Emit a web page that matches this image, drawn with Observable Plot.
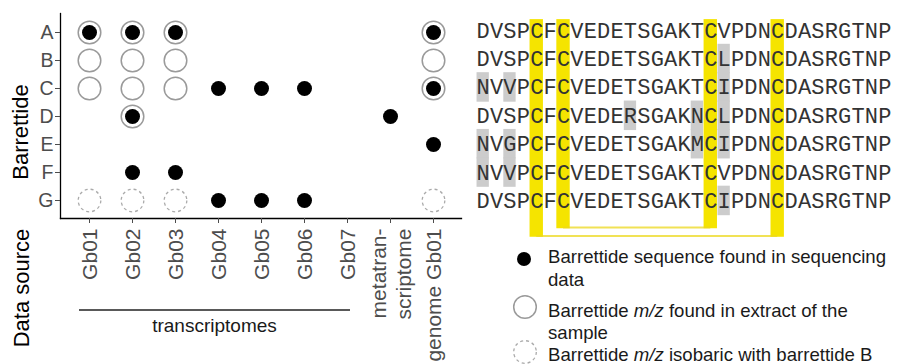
<!DOCTYPE html>
<html>
<head>
<meta charset="utf-8">
<script src="https://cdn.jsdelivr.net/npm/d3@7"></script>
<script src="https://cdn.jsdelivr.net/npm/@observablehq/plot@0.6"></script>
<style>
  html, body { margin: 0; padding: 0; background: #fff; }
  #chart { position: relative; width: 899px; height: 364px; overflow: hidden; background: #fff; font-family: "Liberation Sans", Arial, sans-serif; }
  #chart > * { position: absolute; top: 0; }
  .leftplot text { font-size: 19.5px !important; }
  .leftplot text[transform*="rotate"] { font-size: 21px !important; }
</style>
</head>
<body>
<div id="chart"></div>
<script>
// ---------- data ----------
const sources = ["Gb01", "Gb02", "Gb03", "Gb04", "Gb05", "Gb06", "Gb07", "metatranscriptome", "genome Gb01"];
const sourceLabels = ["Gb01", "Gb02", "Gb03", "Gb04", "Gb05", "Gb06", "Gb07", "metatran-\nscriptome", "genome Gb01"];
const transcriptomeGroup = ["Gb01", "Gb07"];
const barrettides = ["A", "B", "C", "D", "E", "F", "G"];

// [data source, barrettide]
const foundInSequencing = [
  ["Gb01", "A"], ["Gb02", "A"], ["Gb03", "A"], ["genome Gb01", "A"],
  ["Gb04", "C"], ["Gb05", "C"], ["Gb06", "C"], ["genome Gb01", "C"],
  ["Gb02", "D"], ["metatranscriptome", "D"],
  ["genome Gb01", "E"],
  ["Gb02", "F"], ["Gb03", "F"],
  ["Gb04", "G"], ["Gb05", "G"], ["Gb06", "G"]
];
const foundInExtract = [
  ["Gb01", "A"], ["Gb02", "A"], ["Gb03", "A"], ["genome Gb01", "A"],
  ["Gb01", "B"], ["Gb02", "B"], ["Gb03", "B"], ["genome Gb01", "B"],
  ["Gb01", "C"], ["Gb02", "C"], ["Gb03", "C"], ["genome Gb01", "C"],
  ["Gb02", "D"]
];
const isobaricWithB = [
  ["Gb01", "G"], ["Gb02", "G"], ["Gb03", "G"], ["genome Gb01", "G"]
];

// aligned sequences, rows A..G
const sequences = [
  "DVSPCFCVEDETSGAKTCVPDNCDASRGTNP",
  "DVSPCFCVEDETSGAKTCLPDNCDASRGTNP",
  "NVVPCFCVEDETSGAKTCIPDNCDASRGTNP",
  "DVSPCFCVEDERSGAKNCLPDNCDASRGTNP",
  "NVGPCFCVEDETSGAKMCIPDNCDASRGTNP",
  "NVVPCFCVEDETSGAKTCVPDNCDASRGTNP",
  "DVSPCFCVEDETSGAKTCIPDNCDASRGTNP"
];
const cysteines = [4, 6, 17, 22];
// disulfide bonds [from, to, nesting level]
const bonds = [[6, 17, 1], [4, 22, 2]];

const legendItems = [
  ["Barrettide sequence found in sequencing", "data"],
  ["Barrettide |m/z| found in extract of the", "sample"],
  ["Barrettide |m/z| isobaric with barrettide B"]
];

// ---------- colors ----------
const ringGrey = "#9a9a9a";
const yellow = "#f5e400";
const diffGrey = "#cccccc";

const chart = document.getElementById("chart");

// ---------- left: dot grid ----------
const labelOf = new Map(sources.map((s, i) => [s, sourceLabels[i]]));
const left = Plot.plot({
  width: 470, height: 364,
  marginLeft: 60, marginRight: 9, marginTop: 13, marginBottom: 146,
  style: { fontFamily: "'Liberation Sans', Arial, sans-serif", background: "transparent", overflow: "visible" },
  x: { type: "point", domain: sources, padding: 0.6 },
  y: { type: "point", domain: barrettides, padding: 0.6 },
  marks: [
    Plot.frame({ anchor: "left", stroke: "#000", strokeWidth: 1.3 }),
    Plot.frame({ anchor: "bottom", stroke: "#000", strokeWidth: 1.3 }),
    Plot.axisY({ tickSize: 5, tickPadding: 2, fontSize: 19.5, color: "#4d4d4d", label: null }),
    Plot.axisX({ tickSize: 5, tickPadding: 5, tickRotate: -90, fontSize: 21, lineHeight: 1.18,
                 color: "#4d4d4d", label: null, tickFormat: d => labelOf.get(d) }),
    Plot.dot(foundInExtract, { x: d => d[0], y: d => d[1], r: 11.3, stroke: ringGrey, strokeWidth: 1.5, fill: "none" }),
    Plot.dot(isobaricWithB, { x: d => d[0], y: d => d[1], r: 11.3, stroke: "#aaaaaa", strokeWidth: 1.3,
                              strokeDasharray: "3,3", fill: "none" }),
    Plot.dot(foundInSequencing, { x: d => d[0], y: d => d[1], r: 7.5, fill: "#000", stroke: "none" })
  ]
});
left.classList.add("leftplot");
left.style.left = "0px";
chart.appendChild(left);

// ---------- right: alignment ----------
const chars = [];
const diffs = [];
sequences.forEach((s, row) => {
  [...s].forEach((ch, i) => {
    chars.push({ row, i, ch });
    if (ch !== sequences[0][i]) diffs.push({ row, i });
  });
});
const barBottom = level => 6.68 + 0.3 * level;
const bars = cysteines.map(c => {
  const b = bonds.find(d => d[0] === c || d[1] === c);
  return { i: c, level: b[2] };
});

const right = Plot.plot({
  width: 429, height: 243,
  marginLeft: 6, marginRight: 8, marginTop: 16, marginBottom: 0,
  style: { background: "transparent", overflow: "visible" },
  x: { domain: [0, sequences[0].length], axis: null },
  y: { domain: [-0.5, 7.5], reverse: true, axis: null },
  marks: [
    Plot.rect(diffs, { x1: d => d.i + 0.04, x2: d => d.i + 0.96, y1: d => d.row - 0.52, y2: d => d.row + 0.52, fill: diffGrey }),
    Plot.rect(bars, { x1: d => d.i, x2: d => d.i + 1, y1: -0.39, y2: d => barBottom(d.level), fill: yellow }),
    Plot.ruleY(bonds, { y: d => barBottom(d[2]) - 0.04, x1: d => d[0] + 0.5, x2: d => d[1] + 0.5,
                        stroke: "#ecd81c", strokeWidth: 2, strokeOpacity: 0.75 }),
    Plot.text(chars, { x: d => d.i + 0.5, y: d => d.row, text: d => d.ch,
                       fontFamily: "'Liberation Mono', 'Courier New', monospace", fontSize: 22, fill: "#333333" })
  ]
});
right.style.left = "470px";
chart.appendChild(right);

// ---------- annotations & legend (overlay) ----------
const xs = left.scale("x");
const ns = "http://www.w3.org/2000/svg";
const over = document.createElementNS(ns, "svg");
over.setAttribute("width", 899);
over.setAttribute("height", 364);
over.style.left = "0px";
over.style.pointerEvents = "none";
chart.appendChild(over);
const el = (tag, attrs, parent = over) => {
  const e = document.createElementNS(ns, tag);
  for (const k in attrs) e.setAttribute(k, attrs[k]);
  parent.appendChild(e);
  return e;
};
const FONT = "'Liberation Sans', Arial, sans-serif";

// axis titles
el("text", { transform: "translate(28,132) rotate(-90)", "text-anchor": "middle", "font-family": FONT, "font-size": 22, fill: "#000" }).textContent = "Barrettide";
el("text", { transform: "translate(29,288) rotate(-90)", "text-anchor": "middle", "font-family": FONT, "font-size": 22, fill: "#000" }).textContent = "Data source";

// transcriptomes bracket
const gx1 = xs.apply(transcriptomeGroup[0]) - 10, gx2 = xs.apply(transcriptomeGroup[1]) + 3;
el("line", { x1: gx1, x2: gx2, y1: 310, y2: 310, stroke: "#222", "stroke-width": 1.3 });
el("text", { x: (gx1 + gx2) / 2, y: 332, "text-anchor": "middle", "font-family": FONT, "font-size": 19, fill: "#1a1a1a" }).textContent = "transcriptomes";

// legend
const legendBaselines = [[263, 286], [317, 339], [361]];
const symY = [259, 307, 352];
el("circle", { cx: 524, cy: symY[0], r: 7, fill: "#000" });
el("circle", { cx: 525, cy: symY[1], r: 11.3, fill: "none", stroke: ringGrey, "stroke-width": 1.5 });
el("circle", { cx: 525, cy: symY[2], r: 11.3, fill: "none", stroke: "#aaaaaa", "stroke-width": 1.3, "stroke-dasharray": "3,3" });
legendItems.forEach((lines, k) => {
  lines.forEach((line, j) => {
    const t = el("text", { x: 548, y: legendBaselines[k][j], "font-family": FONT, "font-size": 18.6, fill: "#1a1a1a" });
    line.split("|").forEach((part, p) => {
      const ts = el("tspan", p % 2 ? { "font-style": "italic" } : {}, t);
      ts.textContent = part;
    });
  });
});
</script>
</body>
</html>
